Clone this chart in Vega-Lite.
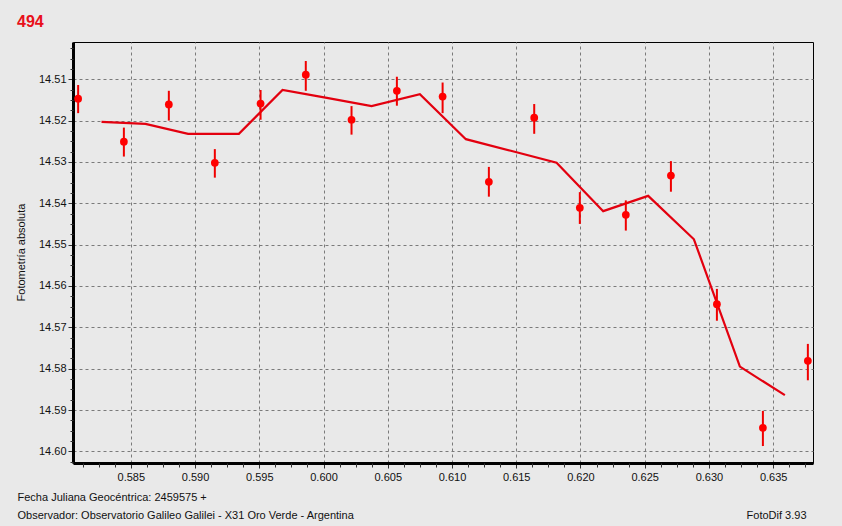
{
  "$schema": "https://vega.github.io/schema/vega-lite/v6.json",
  "width": 740,
  "height": 421,
  "autosize": {"type": "none"},
  "padding": {"left": 73, "top": 42, "right": 29, "bottom": 63},
  "background": "#e9e9e9",
  "title": {
    "text": "494",
    "anchor": "start",
    "frame": "group",
    "dx": -56,
    "offset": -1,
    "baseline": "alphabetic",
    "font": "Liberation Sans",
    "fontSize": 16,
    "fontWeight": "bold",
    "color": "#e8101a"
  },
  "config": {
    "view": {"stroke": "#000000", "strokeWidth": 1, "fill": "#e9e9e9"},
    "axis": {
      "labelFont": "Liberation Sans",
      "labelFontSize": 11,
      "labelColor": "#111111",
      "titleFont": "Liberation Sans",
      "titleFontSize": 11,
      "titleFontWeight": "normal",
      "titleColor": "#111111"
    }
  },
  "datasets": {
    "obs": [
      {"jd": 0.58090, "mag": 14.5147, "lo": 14.5114, "hi": 14.5182},
      {"jd": 0.58446, "mag": 14.5251, "lo": 14.5217, "hi": 14.5287},
      {"jd": 0.58796, "mag": 14.5161, "lo": 14.5128, "hi": 14.5200},
      {"jd": 0.59154, "mag": 14.5302, "lo": 14.5269, "hi": 14.5338},
      {"jd": 0.59510, "mag": 14.5159, "lo": 14.5126, "hi": 14.5198},
      {"jd": 0.59862, "mag": 14.5089, "lo": 14.5056, "hi": 14.5128},
      {"jd": 0.60218, "mag": 14.5198, "lo": 14.5165, "hi": 14.5234},
      {"jd": 0.60571, "mag": 14.5128, "lo": 14.5094, "hi": 14.5164},
      {"jd": 0.60927, "mag": 14.5142, "lo": 14.5108, "hi": 14.5182},
      {"jd": 0.61287, "mag": 14.5348, "lo": 14.5312, "hi": 14.5384},
      {"jd": 0.61640, "mag": 14.5193, "lo": 14.5160, "hi": 14.5232},
      {"jd": 0.61995, "mag": 14.5411, "lo": 14.5373, "hi": 14.5450},
      {"jd": 0.62353, "mag": 14.5428, "lo": 14.5393, "hi": 14.5466},
      {"jd": 0.62704, "mag": 14.5333, "lo": 14.5298, "hi": 14.5372},
      {"jd": 0.63062, "mag": 14.5644, "lo": 14.5607, "hi": 14.5684},
      {"jd": 0.63420, "mag": 14.5943, "lo": 14.5902, "hi": 14.5987},
      {"jd": 0.63770, "mag": 14.5781, "lo": 14.5740, "hi": 14.5828}
    ],
    "fit": [
      {"jd": 0.58272, "mag": 14.5203},
      {"jd": 0.58614, "mag": 14.5208},
      {"jd": 0.58946, "mag": 14.5232},
      {"jd": 0.59341, "mag": 14.5232},
      {"jd": 0.59681, "mag": 14.5126},
      {"jd": 0.60026, "mag": 14.5145},
      {"jd": 0.60374, "mag": 14.5165},
      {"jd": 0.60750, "mag": 14.5136},
      {"jd": 0.61108, "mag": 14.5245},
      {"jd": 0.61458, "mag": 14.5273},
      {"jd": 0.61814, "mag": 14.5302},
      {"jd": 0.62177, "mag": 14.5419},
      {"jd": 0.62527, "mag": 14.5382},
      {"jd": 0.62883, "mag": 14.5487},
      {"jd": 0.63241, "mag": 14.5795},
      {"jd": 0.63591, "mag": 14.5864}
    ]
  },
  "resolve": {"axis": {"x": "independent", "y": "independent"}},
  "layer": [
    {
      "data": {"name": "fit"},
      "mark": {"type": "line", "color": "#e3000f", "strokeWidth": 2.2, "clip": true},
      "encoding": {
        "x": {
          "field": "jd", "type": "quantitative",
          "scale": {"domain": [0.5805, 0.6381], "nice": false, "zero": false},
          "axis": {
            "orient": "bottom",
            "values": [0.585, 0.59, 0.595, 0.6, 0.605, 0.61, 0.615, 0.62, 0.625, 0.63, 0.635],
            "format": ".3f",
            "grid": true, "gridColor": "#7a7a7a", "gridDash": [3, 3], "gridWidth": 1, "gridOpacity": 1,
            "domain": true, "domainColor": "#000000", "domainWidth": 3,
            "ticks": true, "tickColor": "#333333", "tickSize": 5, "tickWidth": 1,
            "labelPadding": 3,
            "title": ["Fecha Juliana Geocéntrica: 2459575 +", "Observador: Observatorio Galileo Galilei - X31 Oro Verde - Argentina"],
            "titleAnchor": "start", "titleAlign": "left", "titleBaseline": "alphabetic",
            "titleX": -56, "titleY": 37, "titleLineHeight": 18
          }
        },
        "y": {
          "field": "mag", "type": "quantitative",
          "scale": {"domain": [14.501, 14.6028], "nice": false, "zero": false, "reverse": true},
          "axis": {
            "orient": "left",
            "values": [14.51, 14.52, 14.53, 14.54, 14.55, 14.56, 14.57, 14.58, 14.59, 14.6],
            "format": ".2f",
            "grid": true, "gridColor": "#7a7a7a", "gridDash": [3, 3], "gridWidth": 1, "gridOpacity": 1,
            "domain": true, "domainColor": "#000000", "domainWidth": 3,
            "ticks": true, "tickColor": "#333333", "tickSize": 5, "tickWidth": 1,
            "labelPadding": 2,
            "title": "Fotometría absoluta",
            "titleX": -52, "titleY": 210, "titleAngle": -90,
            "titleAlign": "center", "titleBaseline": "middle"
          }
        }
      }
    },
    {
      "data": {"name": "obs"},
      "mark": {"type": "rule", "color": "#f00000", "strokeWidth": 2},
      "encoding": {
        "x": {
          "field": "jd", "type": "quantitative",
          "scale": {"domain": [0.5805, 0.6381], "nice": false, "zero": false},
          "axis": {
            "orient": "bottom",
            "values": [0.58125, 0.5825, 0.58375, 0.58625, 0.5875, 0.58875, 0.59125, 0.5925, 0.59375, 0.59625, 0.5975, 0.59875, 0.60125, 0.6025, 0.60375, 0.60625, 0.6075, 0.60875, 0.61125, 0.6125, 0.61375, 0.61625, 0.6175, 0.61875, 0.62125, 0.6225, 0.62375, 0.62625, 0.6275, 0.62875, 0.63125, 0.6325, 0.63375, 0.63625, 0.6375],
            "labels": false, "grid": false, "domain": false,
            "ticks": true, "tickColor": "#333333", "tickSize": 4, "tickWidth": 1,
            "title": "FotoDif 3.93",
            "titleAnchor": "end", "titleAlign": "right", "titleBaseline": "alphabetic",
            "titleX": 733, "titleY": 55
          }
        },
        "y": {
          "field": "lo", "type": "quantitative",
          "scale": {"domain": [14.501, 14.6028], "nice": false, "zero": false, "reverse": true},
          "axis": {
            "orient": "left",
            "values": [14.5025, 14.505, 14.5075, 14.5125, 14.515, 14.5175, 14.5225, 14.525, 14.5275, 14.5325, 14.535, 14.5375, 14.5425, 14.545, 14.5475, 14.5525, 14.555, 14.5575, 14.5625, 14.565, 14.5675, 14.5725, 14.575, 14.5775, 14.5825, 14.585, 14.5875, 14.5925, 14.595, 14.5975, 14.6025],
            "labels": false, "grid": false, "domain": false,
            "ticks": true, "tickColor": "#333333", "tickSize": 3, "tickWidth": 1,
            "title": null
          }
        },
        "y2": {"field": "hi"}
      }
    },
    {
      "data": {"name": "obs"},
      "mark": {"type": "point", "shape": "circle", "filled": true, "color": "#ff0000", "opacity": 1, "size": 60},
      "encoding": {
        "x": {"field": "jd", "type": "quantitative", "scale": {"domain": [0.5805, 0.6381], "nice": false, "zero": false}, "axis": null},
        "y": {"field": "mag", "type": "quantitative", "scale": {"domain": [14.501, 14.6028], "nice": false, "zero": false, "reverse": true}, "axis": null}
      }
    }
  ]
}
